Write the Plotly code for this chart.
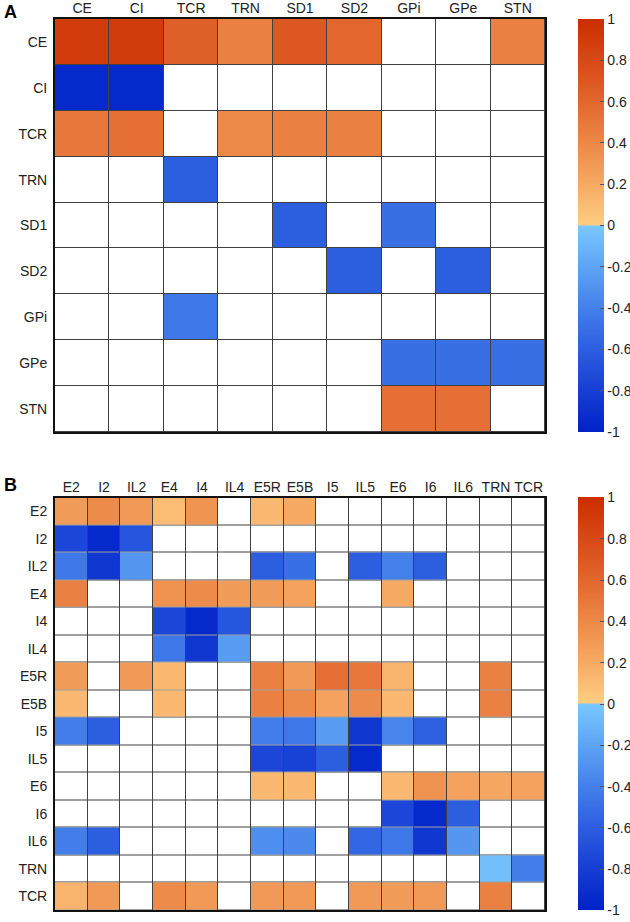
import plotly.graph_objects as go

# ---------------- data ----------------
labels_a = ["CE", "CI", "TCR", "TRN", "SD1", "SD2", "GPi", "GPe", "STN"]
values_a = [
    [0.90, 0.90, 0.65, 0.45, 0.70, 0.60, 0, 0, 0.45],
    [-0.95, -0.95, 0, 0, 0, 0, 0, 0, 0],
    [0.50, 0.55, 0, 0.40, 0.45, 0.45, 0, 0, 0],
    [0, 0, -0.60, 0, 0, 0, 0, 0, 0],
    [0, 0, 0, 0, -0.60, 0, -0.50, 0, 0],
    [0, 0, 0, 0, 0, -0.60, 0, -0.60, 0],
    [0, 0, -0.45, 0, 0, 0, 0, 0, 0],
    [0, 0, 0, 0, 0, 0, -0.50, -0.50, -0.50],
    [0, 0, 0, 0, 0, 0, 0.55, 0.55, 0],
]

labels_b = ["E2", "I2", "IL2", "E4", "I4", "IL4", "E5R", "E5B", "I5", "IL5",
            "E6", "I6", "IL6", "TRN", "TCR"]
values_b = [
    # E2    I2    IL2   E4    I4    IL4   E5R   E5B   I5    IL5   E6    I6    IL6   TRN   TCR
    [0.28, 0.38, 0.30, 0.10, 0.33, 0, 0.12, 0.20, 0, 0, 0, 0, 0, 0, 0],           # E2
    [-0.75, -0.95, -0.65, 0, 0, 0, 0, 0, 0, 0, 0, 0, 0, 0, 0],                     # I2
    [-0.45, -0.85, -0.28, 0, 0, 0, -0.60, -0.50, 0, -0.60, -0.40, -0.60, 0, 0, 0],  # IL2
    [0.45, 0, 0, 0.35, 0.38, 0.28, 0.28, 0.25, 0, 0, 0.20, 0, 0, 0, 0],             # E4
    [0, 0, 0, -0.75, -0.95, -0.65, 0, 0, 0, 0, 0, 0, 0, 0, 0],                      # I4
    [0, 0, 0, -0.45, -0.85, -0.25, 0, 0, 0, 0, 0, 0, 0, 0, 0],                      # IL4
    [0.28, 0, 0.30, 0.12, 0, 0, 0.45, 0.30, 0.55, 0.50, 0.15, 0, 0, 0.45, 0],       # E5R
    [0.12, 0, 0, 0.12, 0, 0, 0.45, 0.38, 0.25, 0.38, 0.12, 0, 0, 0.45, 0],          # E5B
    [-0.42, -0.60, 0, 0, 0, 0, -0.42, -0.45, -0.25, -0.85, -0.38, -0.58, 0, 0, 0],  # I5
    [0, 0, 0, 0, 0, 0, -0.75, -0.78, -0.60, -0.95, 0, 0, 0, 0, 0],                  # IL5
    [0, 0, 0, 0, 0, 0, 0.12, 0.12, 0, 0, 0.12, 0.35, 0.25, 0.22, 0.25],             # E6
    [0, 0, 0, 0, 0, 0, 0, 0, 0, 0, -0.75, -0.95, -0.60, 0, 0],                      # I6
    [-0.42, -0.60, 0, 0, 0, 0, -0.32, -0.35, 0, -0.55, -0.45, -0.85, -0.28, 0, 0],  # IL6
    [0, 0, 0, 0, 0, 0, 0, 0, 0, 0, 0, 0, 0, -0.05, -0.42],                          # TRN
    [0.15, 0.30, 0, 0.38, 0.30, 0, 0.30, 0.30, 0, 0.30, 0.28, 0.30, 0, 0.45, 0],     # TCR
]

tick_values = [-1, -0.8, -0.6, -0.4, -0.2, 0, 0.2, 0.4, 0.6, 0.8, 1]
tick_labels = ["-1", "-0.8", "-0.6", "-0.4", "-0.2", "0", "0.2", "0.4", "0.6", "0.8", "1"]

# ---------------- style ----------------
FONT = "Liberation Sans, Arial, Helvetica, sans-serif"
colorscale = [
    [0.00, "rgb(0,34,200)"],
    [0.10, "rgb(22,62,212)"],
    [0.20, "rgb(44,94,224)"],
    [0.30, "rgb(68,128,234)"],
    [0.40, "rgb(94,164,244)"],
    [0.4999, "rgb(122,200,255)"],
    [0.5001, "rgb(255,206,130)"],
    [0.60, "rgb(246,170,100)"],
    [0.70, "rgb(236,136,72)"],
    [0.80, "rgb(226,102,46)"],
    [0.90, "rgb(215,72,24)"],
    [1.00, "rgb(204,46,0)"],
]

W, H = 630, 922
ML, MR, MT, MB = 55, 85, 19, 12
plot_h = H - MT - MB
plot_w = W - ML - MR

def py(pix):  # pixel y (from top) -> paper y
    return (H - MB - pix) / plot_h

def px(pix):
    return (pix - ML) / plot_w

a_top, a_bot = 19, 432
b_top, b_bot = 497.5, 910

def nz(mat):
    return [[(v if v != 0 else None) for v in row] for row in mat]

def blank(mat):
    return [[0 for _ in row] for row in mat]

fig = go.Figure()

# panel A
fig.add_trace(go.Heatmap(z=blank(values_a), x=labels_a, y=labels_a,
                         colorscale=[[0, "white"], [1, "white"]], showscale=False,
                         xgap=1, ygap=1, hoverinfo="skip", xaxis="x", yaxis="y"))
fig.add_trace(go.Heatmap(z=nz(values_a), x=labels_a, y=labels_a, coloraxis="coloraxis",
                         xgap=1, ygap=1, xaxis="x", yaxis="y"))
# panel B
fig.add_trace(go.Heatmap(z=blank(values_b), x=labels_b, y=labels_b,
                         colorscale=[[0, "white"], [1, "white"]], showscale=False,
                         xgap=1, ygap=1, hoverinfo="skip", xaxis="x2", yaxis="y2"))
fig.add_trace(go.Heatmap(z=nz(values_b), x=labels_b, y=labels_b, coloraxis="coloraxis2",
                         xgap=1, ygap=1, xaxis="x2", yaxis="y2"))

def cbar(top_pix, bot_pix):
    return dict(
        x=px(568), xanchor="left", thickness=26,
        lenmode="pixels", len=bot_pix - top_pix, y=py(top_pix), yanchor="top", ypad=0,
        outlinewidth=0, tickvals=tick_values, ticktext=tick_labels,
        ticks="inside", ticklen=4, tickcolor="#555", tickwidth=1,
        tickfont=dict(family=FONT, size=14, color="#222"),
    )

axis_common = dict(type="category", showgrid=False, zeroline=False, ticks="", ticklen=0,
                   showline=True, mirror=True, linecolor="#111", linewidth=2,
                   tickfont=dict(family=FONT, size=14, color="#222"),
                   fixedrange=True, automargin=False)

n_a, n_b = len(labels_a), len(labels_b)
fig.update_layout(
    width=W, height=H,
    margin=dict(l=ML, r=MR, t=MT, b=MB, autoexpand=False),
    paper_bgcolor="white", plot_bgcolor="#404040",
    font=dict(family=FONT, color="#222"),
    coloraxis=dict(colorscale=colorscale, cmin=-1, cmax=1, colorbar=cbar(a_top, a_bot)),
    coloraxis2=dict(colorscale=colorscale, cmin=-1, cmax=1, colorbar=cbar(b_top, b_bot)),
    xaxis=dict(axis_common, domain=[0, 1], side="top", anchor="y",
               range=[-0.5, n_a - 0.5], ticklabelstandoff=-2),
    yaxis=dict(axis_common, domain=[py(a_bot), 1], anchor="x",
               range=[n_a - 0.5, -0.5], ticklabelstandoff=3),
    xaxis2=dict(axis_common, domain=[0, 1], side="top", anchor="y2",
                range=[-0.5, n_b - 0.5], ticklabelstandoff=-2),
    yaxis2=dict(axis_common, domain=[0, py(b_top)], anchor="x2",
                range=[n_b - 0.5, -0.5], ticklabelstandoff=3),
    annotations=[
        dict(text="<b>A</b>", xref="paper", yref="paper", x=px(2), y=py(12),
             xanchor="left", yanchor="middle", showarrow=False,
             font=dict(family=FONT, size=18, color="black")),
        dict(text="<b>B</b>", xref="paper", yref="paper", x=px(2), y=py(485),
             xanchor="left", yanchor="middle", showarrow=False,
             font=dict(family=FONT, size=18, color="black")),
    ],
)

fig.write_html("out.html", config={"displayModeBar": False},
               post_script="document.body.style.margin='0';document.body.style.overflow='hidden';")
